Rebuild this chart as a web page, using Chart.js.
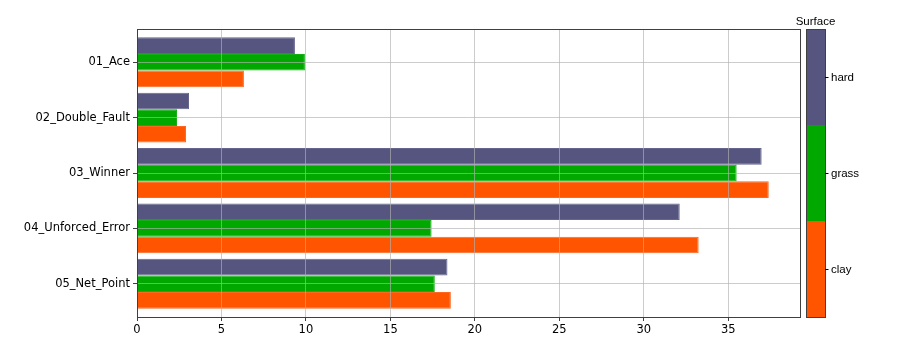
<!DOCTYPE html>
<html>
<head>
<meta charset="utf-8">
<script src="https://cdn.jsdelivr.net/npm/chart.js@4/dist/chart.umd.min.js"></script>
<style>
  html, body { margin: 0; padding: 0; background: #ffffff; }
  #wrap { width: 918px; height: 351px; }
</style>
</head>
<body>
<div id="wrap"><canvas id="c" width="918" height="351"></canvas></div>
<script>
// ---- data ----
const categories = ['01_Ace', '02_Double_Fault', '03_Winner', '04_Unforced_Error', '05_Net_Point'];
const seriesNames = ['hard', 'grass', 'clay'];
const hardValues  = [9.35, 3.08, 36.98, 32.13, 18.38];
const grassValues = [9.94, 2.37, 35.50, 17.44, 17.63];
const clayValues  = [6.33, 2.90, 37.40, 33.25, 18.58];
const xTickValues = [0, 5, 10, 15, 20, 25, 30, 35];
const legendTitle = 'Surface';

const colors = { hard: '#55557f', grass: '#00a800', clay: '#ff5500' };
const edges  = { hard: '#65658d', grass: '#14ad14', clay: '#ff6620' };
const valueMap = { hard: hardValues, grass: grassValues, clay: clayValues };

const datasets = seriesNames.map(name => ({
  label: name,
  data: valueMap[name].map((v, i) => ({ x: v, y: i })),
  backgroundColor: colors[name],
  borderColor: edges[name],
  borderWidth: 1,
  categoryPercentage: 0.9,
  barPercentage: 1.0
}));

const frameAndColorbar = {
  id: 'frameAndColorbar',
  afterDraw(chart) {
    const ctx = chart.ctx;
    const a = chart.chartArea;
    ctx.save();
    ctx.strokeStyle = '#404040';
    ctx.lineWidth = 1;
    ctx.strokeRect(Math.round(a.left) + 0.5, Math.round(a.top) + 0.5,
                   Math.round(a.right - a.left), Math.round(a.bottom - a.top));
    // colorbar
    const x0 = 806, w = 19;
    const top = a.top, bottom = a.bottom;
    const n = seriesNames.length;
    const h = (bottom - top) / n;
    seriesNames.forEach((name, i) => {
      ctx.fillStyle = colors[name];
      ctx.fillRect(x0, top + i * h, w, h);
    });
    ctx.strokeStyle = '#404040';
    ctx.strokeRect(x0 + 0.5, Math.round(top) + 0.5, w, Math.round(bottom - top));
    ctx.fillStyle = '#000';
    ctx.font = '11.5px "Liberation Sans", Arial, sans-serif';
    ctx.textBaseline = 'middle';
    ctx.textAlign = 'left';
    seriesNames.forEach((name, i) => {
      const y = Math.round(top + (i + 0.5) * h) + 0.5;
      ctx.beginPath();
      ctx.moveTo(x0 + w, y);
      ctx.lineTo(x0 + w + 3.5, y);
      ctx.strokeStyle = '#000';
      ctx.stroke();
      ctx.fillText(name, x0 + w + 6, y);
    });
    ctx.textAlign = 'center';
    ctx.textBaseline = 'alphabetic';
    ctx.fillText(legendTitle, x0 + w / 2, 25);
    ctx.restore();
  }
};

const tickFont = { family: '"DejaVu Sans", sans-serif', size: 11.5 };

new Chart(document.getElementById('c'), {
  type: 'bar',
  data: { datasets },
  options: {
    responsive: false,
    animation: false,
    indexAxis: 'y',
    layout: { padding: { top: 29, right: 118, left: 0, bottom: 0 } },
    plugins: { legend: { display: false }, tooltip: { enabled: false } },
    scales: {
      x: {
        type: 'linear',
        min: 0,
        max: 39.25,
        offset: false,
        afterBuildTicks: axis => { axis.ticks = xTickValues.map(v => ({ value: v })); },
        afterFit: s => { s.height = 34; },
        grid: { offset: false, color: 'rgba(176,176,176,0.65)', lineWidth: 1, tickColor: '#404040', tickLength: 4, z: 1 },
        border: { display: false },
        ticks: { color: '#000', font: tickFont, padding: 2, maxRotation: 0 }
      },
      y: {
        type: 'linear',
        reverse: true,
        min: -0.6,
        max: 4.6,
        offset: false,
        afterBuildTicks: axis => { axis.ticks = categories.map((_, i) => ({ value: i })); },
        afterFit: s => { s.width = 137; },
        grid: { offset: false, color: 'rgba(176,176,176,0.65)', lineWidth: 1, tickColor: '#404040', tickLength: 4, z: 1 },
        border: { display: false },
        ticks: {
          color: '#000',
          font: tickFont,
          padding: 3,
          callback: v => categories[v] !== undefined ? categories[v] : ''
        }
      }
    }
  },
  plugins: [frameAndColorbar]
});
</script>
</body>
</html>
